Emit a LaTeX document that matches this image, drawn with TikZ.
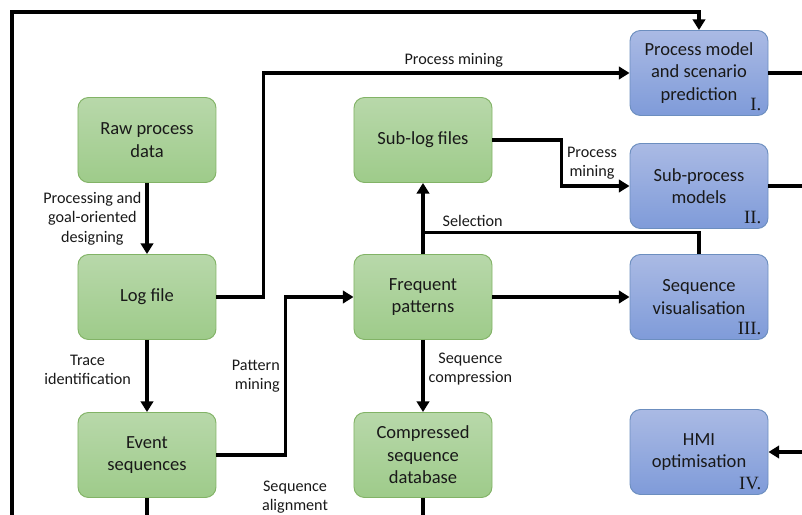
\documentclass[tikz,border=0pt]{standalone}
\usepackage{fontspec}
\setmainfont{Carlito}
\newfontfamily\numfont{Liberation Serif}
\usetikzlibrary{arrows.meta,calc}
\definecolor{gtop}{HTML}{B8D8AA}
\definecolor{gbot}{HTML}{9ECB8A}
\definecolor{gline}{HTML}{82B366}
\definecolor{btop}{HTML}{AABAE4}
\definecolor{bbot}{HTML}{7F9BD9}
\definecolor{bline}{HTML}{6C8EBF}
\begin{document}
\begin{tikzpicture}[x=0.03cm, y=-0.03cm,
    box/.style={rounded corners=9pt, minimum width=4.14cm, minimum height=2.55cm, align=center, line width=0.8pt, text=black!90, font=\fontsize{15.8}{19.2}\selectfont},
    greenbox/.style={box, draw=gline, top color=gtop, bottom color=gbot},
    bluebox/.style={box, draw=bline, top color=btop, bottom color=bbot},
    line/.style={line width=3pt},
    flow/.style={line, -{Triangle[length=9pt, width=10.5pt]}},
    lbl/.style={align=center, text=black!90, font=\fontsize{13.8}{16.6}\selectfont},
    num/.style={inner sep=0pt, anchor=base east, text=black!90, font=\numfont\fontsize{16}{16}\selectfont}]
    \useasboundingbox (0,0) rectangle (802,515);
    \node[greenbox] (raw) at (147,140) {Raw process\\data};
    \node[greenbox] (log) at (147,297) {Log file};
    \node[greenbox] (event) at (147,455) {Event\\sequences};
    \node[greenbox] (sublog) at (423,140) {Sub-log files};
    \node[greenbox] (freq) at (423,297) {Frequent\\patterns};
    \node[greenbox] (comp) at (423,455) {Compressed\\sequence\\database};
    \node[bluebox] (model) at (699,73) {Process model\\and scenario\\prediction};
    \node[bluebox] (subproc) at (699,186) {Sub-process\\models};
    \node[bluebox] (vis) at (699,297) {Sequence\\visualisation};
    \node[bluebox] (hmi) at (699,452) {HMI\\optimisation};
    \foreach \b/\n in {model/I., subproc/II., vis/III., hmi/IV.} \node[num] (\b-num) at ([xshift=-6pt, yshift=5pt]\b.south east) {\n};
    \coordinate (topleft) at (12,12);
    \coordinate (botleft) at (12,515);
    \coordinate (modelout) at (802,73);
    \coordinate (subprocout) at (802,186);
    \coordinate (hmiin) at (802,452);
    \coordinate (eventout) at (147,515);
    \coordinate (compout) at (423,515);
    \coordinate (sel) at ($(freq.north)!0.3!(sublog.south)$);
    \draw[flow] (botleft) -- (topleft) -| (model.north);
    \draw[flow] (raw) -- (log) node[lbl, midway, left] {Processing and\\goal-oriented\\designing};
    \draw[flow] (log) -- (event) node[lbl, midway, left, xshift=-9pt, yshift=5pt] {Trace\\identification};
    \draw[flow] (log.east) -- ++(47,0) |- (model.west) node[lbl, pos=0.76, above] {Process mining};
    \draw[flow] (event.east) -- ++(69,0) |- (freq.west) node[lbl, pos=0.25, left, align=right] {Pattern\\mining};
    \draw[flow] (freq) -- (comp) node[lbl, midway, right, yshift=6pt] {Sequence\\compression};
    \draw[flow] (sublog.east) -- ++(69,0) |- (subproc.west) node[lbl, pos=0.25, right] {Process\\mining};
    \draw[flow] (freq) -- (vis);
    \draw[flow] (freq) -- (sublog);
    \draw[line] (sel) -| (vis.north) node[lbl, pos=0.09, above] {Selection};
    \draw[line] (model.east) -- (modelout);
    \draw[line] (subproc.east) -- (subprocout);
    \draw[flow] (hmiin) -- (hmi.east);
    \draw[line] (event.south) -- (eventout);
    \draw[line] (comp.south) -- (compout);
    \node[lbl] (alignlbl) at (295,497) {Sequence\\alignment};
\end{tikzpicture}
\end{document}
